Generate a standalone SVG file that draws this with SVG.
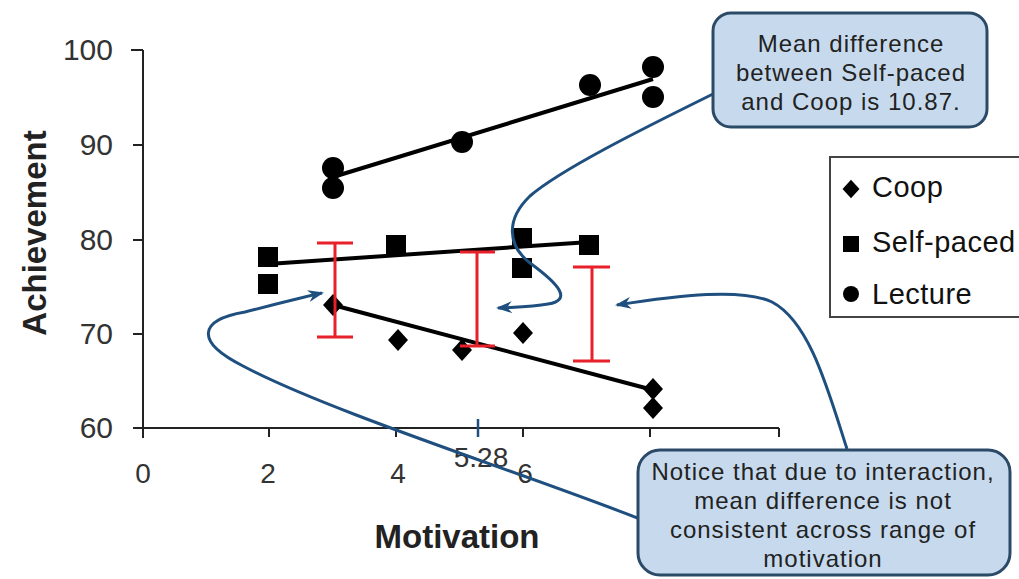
<svg xmlns="http://www.w3.org/2000/svg" xmlns:xlink="http://www.w3.org/1999/xlink" width="1019" height="579" viewBox="0 0 1019 579">
<style>
.ax{stroke:#222;stroke-width:2;fill:none}
.tick{font-family:"Liberation Sans",Arial,sans-serif;font-size:30px;fill:#333}
.xtick{font-family:"Liberation Sans",Arial,sans-serif;font-size:28px;fill:#333;text-anchor:middle}
.title{font-family:"Liberation Sans",Arial,sans-serif;font-size:33px;font-weight:bold;fill:#222;text-anchor:middle}
.fit{stroke:#000;stroke-width:4;fill:none}
.mk{fill:#000}
.err{stroke:#e8202a;stroke-width:3;fill:none}
.box{fill:#c7daed;stroke:#2b4a68;stroke-width:3}
.ct{font-family:"Liberation Sans",Arial,sans-serif;font-size:24px;fill:#222;text-anchor:middle;letter-spacing:1px}
.lg{font-family:"Liberation Sans",Arial,sans-serif;font-size:29px;fill:#111;letter-spacing:0.5px}
.conn{stroke:#1f4f7e;stroke-width:3;fill:none}
</style>
<defs>
<path id="dia" d="M0,-11 L10,0 L0,11 L-10,0 Z"/>
<rect id="sq" x="-10" y="-10" width="20" height="20"/>
<circle id="cir" r="11"/>
<marker id="arr" viewBox="0 0 16 12" refX="14" refY="6" markerWidth="16" markerHeight="12" markerUnits="userSpaceOnUse" orient="auto">
<path d="M0,0 L16,6 L0,12 L5,6 Z" fill="#1f4f7e"/>
</marker>
</defs>
<rect width="1019" height="579" fill="#fff"/>

<g id="axes">
<path class="ax" d="M143,50 V428 H779"/>
<path class="ax" d="M131,50 H143 M133,145 H143 M133,240 H143 M133,334 H143 M133,428 H143"/>
<path class="ax" d="M143,428 V438 M269,428 V437 M396,428 V437 M523,428 V437 M650,428 V437 M779,428 V437"/>
<path d="M478,419 V437" stroke="#1f4f7e" stroke-width="2.5"/>
<g class="tick" text-anchor="end">
<text x="113" y="60">100</text>
<text x="113" y="155">90</text>
<text x="113" y="250">80</text>
<text x="113" y="344">70</text>
<text x="113" y="438">60</text>
</g>
<text class="xtick" x="143" y="483">0</text>
<text class="xtick" x="268" y="483">2</text>
<text class="xtick" x="398" y="483">4</text>
<text class="xtick" x="525" y="483">6</text>
<text class="xtick" x="481" y="467">5.28</text>
<text class="title" x="457" y="548">Motivation</text>
<text class="title" transform="translate(46,233) rotate(-90)">Achievement</text>
</g>

<g id="series-lecture">
<path class="fit" d="M333,177 L653,79"/>
<g class="mk">
<use xlink:href="#cir" x="333" y="168"/>
<use xlink:href="#cir" x="333" y="188"/>
<use xlink:href="#cir" x="462" y="142"/>
<use xlink:href="#cir" x="590" y="85"/>
<use xlink:href="#cir" x="653" y="67"/>
<use xlink:href="#cir" x="653" y="97"/>
</g>
</g>

<g id="series-selfpaced">
<path class="fit" d="M268,264 L590,242"/>
<g class="mk">
<use xlink:href="#sq" x="268" y="257"/>
<use xlink:href="#sq" x="268" y="284"/>
<use xlink:href="#sq" x="396" y="245"/>
<use xlink:href="#sq" x="522" y="238"/>
<use xlink:href="#sq" x="522" y="268"/>
<use xlink:href="#sq" x="589" y="245"/>
</g>
</g>

<g id="series-coop">
<path class="fit" d="M333,305 L653,390"/>
<g class="mk">
<use xlink:href="#dia" x="333" y="305"/>
<use xlink:href="#dia" x="398" y="340"/>
<use xlink:href="#dia" x="462" y="350"/>
<use xlink:href="#dia" x="523" y="333"/>
<use xlink:href="#dia" x="653" y="389"/>
<use xlink:href="#dia" x="653" y="408"/>
</g>
</g>

<g id="error-bars">
<path class="err" d="M317,243 H353 M335,243 V337 M317,337 H353"/>
<path class="err" d="M460,252 H495 M477,252 V346 M460,346 H495"/>
<path class="err" d="M573,267 H610 M592,267 V361 M573,361 H610"/>
</g>

<g id="legend">
<rect x="830" y="157" width="200" height="160" fill="#fff" stroke="#444" stroke-width="2"/>
<use xlink:href="#dia" x="851" y="189" transform="translate(851,189) scale(0.85) translate(-851,-189)" class="mk"/>
<rect x="843" y="236" width="16" height="16" class="mk"/>
<circle cx="851" cy="294" r="8" class="mk"/>
<text class="lg" x="872" y="197">Coop</text>
<text class="lg" x="872" y="252">Self-paced</text>
<text class="lg" x="872" y="304">Lecture</text>
</g>

<g id="connectors">
<path class="conn" marker-end="url(#arr)" d="M713,94 C640,130 560,170 530,196 C505,220 508,246 530,263 C560,285 572,300 548,304 C532,307 515,307 498,308"/>
<path class="conn" marker-end="url(#arr)" d="M640,519 C520,472 330,412 243,366 C195,342 198,320 245,312 C272,305 300,298 322,293"/>
<path class="conn" marker-end="url(#arr)" d="M847,449 C828,390 810,322 772,302 C742,288 680,295 617,305"/>
</g>

<g id="callout-mean-difference">
<rect class="box" x="713" y="13" width="274" height="114" rx="18"/>
<text class="ct" x="851" y="52">Mean difference</text>
<text class="ct" x="851" y="81">between Self-paced</text>
<text class="ct" x="851" y="110">and Coop is 10.87.</text>
</g>

<g id="callout-interaction">
<rect class="box" x="638" y="450" width="372" height="125" rx="22"/>
<text class="ct" x="823" y="480">Notice that due to interaction,</text>
<text class="ct" x="823" y="509">mean difference is not</text>
<text class="ct" x="823" y="538">consistent across range of</text>
<text class="ct" x="823" y="567">motivation</text>
</g>
</svg>
